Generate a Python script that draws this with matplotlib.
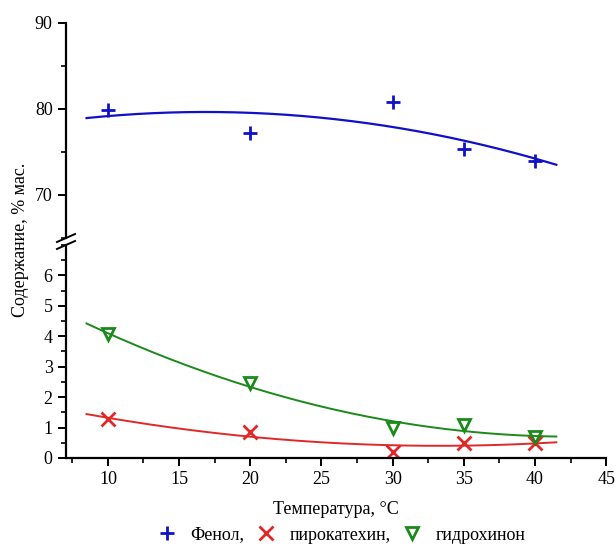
import numpy as np
import matplotlib.pyplot as plt
from matplotlib.ticker import MultipleLocator

plt.rcParams['font.family'] = ['Liberation Serif', 'DejaVu Serif']

# данные
temp = [10, 20, 30, 35, 40]
phenol = [79.9, 77.25, 80.85, 75.3, 73.9]
pyrocatechol = [1.27, 0.86, 0.21, 0.48, 0.5]
hydroquinone = [4.07, 2.45, 0.97, 1.08, 0.68]
labels = ['Фенол,', 'пирокатехин,', 'гидрохинон']

c_blue = '#1010c8'
c_red = '#e02828'
c_green = '#1a8a1a'

fig = plt.figure(figsize=(6.16, 5.46), dpi=100)
ax_top = fig.add_axes([0.107, 0.5641, 0.877, 0.3938])
ax_bot = fig.add_axes([0.107, 0.1612, 0.877, 0.3901])

xfit = np.linspace(8.5, 41.5, 200)

def fit(y):
    p = np.polyfit(temp, y, 2)
    return np.polyval(p, xfit)

ax_top.plot(xfit, fit(phenol), color=c_blue, lw=1.6)
h1, = ax_top.plot(temp, phenol, '+', color=c_blue, ms=10, mew=2)

ax_bot.plot(xfit, fit(pyrocatechol), color=c_red, lw=1.4)
h2, = ax_bot.plot(temp, pyrocatechol, 'x', color=c_red, ms=10, mew=2)
ax_bot.plot(xfit, fit(hydroquinone), color=c_green, lw=1.4)
h3, = ax_bot.plot(temp, hydroquinone, 'v', color=c_green, mfc='none', ms=9, mew=2)

for ax in (ax_top, ax_bot):
    ax.set_xlim(7.05, 45)
    ax.spines['top'].set_visible(False)
    ax.spines['right'].set_visible(False)
    ax.spines['left'].set_linewidth(1.6)
    ax.spines['bottom'].set_linewidth(1.6)
    ax.tick_params(direction='out', which='major', length=6, width=1.4, labelsize=13)
    ax.tick_params(direction='out', which='minor', length=3.5, width=1.2)
    ax.xaxis.set_major_locator(MultipleLocator(5))
    ax.xaxis.set_minor_locator(MultipleLocator(2.5))

ax_top.set_ylim(65, 90)
ax_top.yaxis.set_major_locator(MultipleLocator(10))
ax_top.yaxis.set_minor_locator(MultipleLocator(5))
ax_top.spines['bottom'].set_visible(False)
ax_top.tick_params(axis='x', which='both', bottom=False, labelbottom=False)

ax_bot.set_ylim(0, 7.0)
ax_bot.yaxis.set_major_locator(MultipleLocator(1))
ax_bot.yaxis.set_minor_locator(MultipleLocator(0.5))
ax_bot.set_yticks([0, 1, 2, 3, 4, 5, 6])

# разрыв оси
for yb in (0.5641, 0.5513):
    fig.add_artist(plt.Line2D([0.0925, 0.1218], [yb - 0.0073, yb + 0.0073],
                              color='black', lw=1.4))

fig.text(0.545, 0.066, 'Температура, °C', fontsize=13, ha='center', va='center')
fig.text(0.033, 0.56, 'Содержание, % мас.', rotation=90, fontsize=13,
         ha='center', va='center')

fig.legend([h1, h2, h3], labels, loc='center', ncol=3, frameon=False,
           fontsize=13, bbox_to_anchor=(0.555, 0.02), handlelength=1.0,
           handletextpad=0.8, columnspacing=0.7)

fig.savefig('out.png', dpi=100)
